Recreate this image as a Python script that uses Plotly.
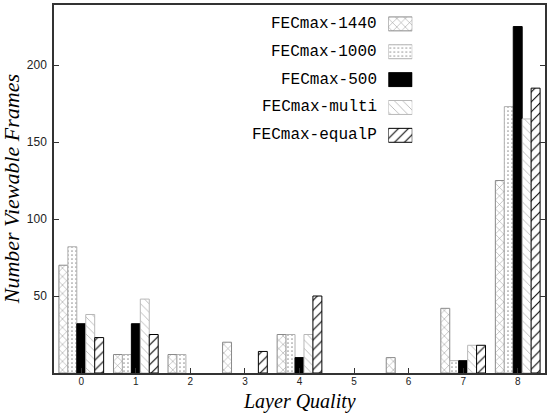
import plotly.graph_objects as go

# ---- data ----
layers = [0, 1, 2, 3, 4, 5, 6, 7, 8]
tick_labels = ["0", "1", "2", "3", "4", "5", "6", "7", "8"]
series_names = ["FECmax-1440", "FECmax-1000", "FECmax-500", "FECmax-multi", "FECmax-equalP"]
fec_1440 = [70, 12, 12, 20, 25, 0, 10, 42, 125]
fec_1000 = [82, 12, 12, 0, 25, 0, 0, 8, 173]
fec_500 = [32, 32, 0, 0, 10, 0, 0, 8, 225]
fec_multi = [38, 48, 0, 0, 25, 0, 0, 18, 165]
fec_equalp = [23, 25, 0, 14, 50, 0, 0, 18, 185]
y_tick_vals = [50, 100, 150, 200]
y_tick_text = ["50", "100", "150", "200"]

series_values = [fec_1440, fec_1000, fec_500, fec_multi, fec_equalp]

# ---- styles ----
styles = [
    dict(shape="x", fg="#8a8a8a", line="#8a8a8a", size=6, fill="white"),
    dict(shape=".", fg="#9a9a9a", line="#b0b0b0", size=4, fill="white"),
    dict(shape="", fg="black", line="black", size=8, fill="black"),
    dict(shape="\\", fg="#b8b8b8", line="#b8b8b8", size=6, fill="white"),
    dict(shape="/", fg="black", line="black", size=7, fill="white"),
]


def bar_marker(st, line_width=1):
    return dict(
        color=st["fill"],
        line=dict(color=st["line"], width=line_width),
        pattern=dict(shape=st["shape"], fgcolor=st["fg"], bgcolor=st["fill"],
                     size=st["size"], solidity=0.15, fillmode="replace"),
    )


fig = go.Figure()
for name, vals, st in zip(series_names, series_values, styles):
    widths = [1 if v > 0 else 0 for v in vals]
    fig.add_trace(go.Bar(
        x=layers, y=vals, name=name, showlegend=False,
        marker=bar_marker(st, widths), xaxis="x", yaxis="y",
    ))

# custom legend (swatch on the right of the text)
annotations = []
for i, (name, st) in enumerate(zip(series_names, styles)):
    fig.add_trace(go.Bar(
        y=[i], x=[1], base=0, orientation="h", width=0.5, offset=-0.25,
        showlegend=False, hoverinfo="skip", marker=bar_marker(st),
        xaxis="x2", yaxis="y2",
    ))
    annotations.append(dict(
        text=name, x=0.662, xref="paper", y=i, yref="y2",
        xanchor="right", yanchor="middle", showarrow=False,
        font=dict(family="Liberation Mono, Courier New, monospace", size=16, color="black"),
    ))

annotations.append(dict(
    text="Layer Quality", x=0.5, xref="paper", y=-0.078, yref="paper",
    xanchor="center", yanchor="middle", showarrow=False,
    font=dict(family="Liberation Serif, Times New Roman, serif", size=20, color="black", style="italic"),
))
annotations.append(dict(
    text="Number Viewable Frames", x=-0.087, xref="paper", y=0.5, yref="paper",
    xanchor="center", yanchor="middle", showarrow=False, textangle=-90,
    font=dict(family="Liberation Serif, Times New Roman, serif", size=22, color="black", style="italic"),
))

axis_common = dict(showgrid=False, zeroline=False, showline=True, linecolor="#333333",
                   linewidth=1.5, ticks="inside", ticklen=5, tickcolor="#333333", tickwidth=1)

fig.update_layout(
    width=550, height=420,
    margin=dict(l=54, r=4, t=3, b=47),
    paper_bgcolor="white", plot_bgcolor="white",
    barmode="group", bargap=0.18, bargroupgap=0,
    showlegend=False,
    xaxis=dict(range=[-0.5, 8.5], tickmode="array", tickvals=layers, ticktext=tick_labels,
               mirror=True, ticklabelstandoff=-2,
               tickfont=dict(family="Liberation Sans, Arial, sans-serif", size=10, color="#222"),
               **axis_common),
    yaxis=dict(range=[0, 239], tickmode="array", tickvals=y_tick_vals, ticktext=y_tick_text,
               mirror="ticks", ticklabelstandoff=3,
               tickfont=dict(family="Liberation Sans, Arial, sans-serif", size=12, color="#222"),
               **axis_common),
    xaxis2=dict(domain=[0.6809, 0.7297], range=[0, 1], anchor="y2", visible=False, fixedrange=True),
    yaxis2=dict(domain=[0.608, 0.9865], range=[4.5, -0.5], anchor="x2", visible=False, fixedrange=True),
    annotations=annotations,
)

fig.write_html("out.html", config={"displayModeBar": False},
               post_script="document.body.style.margin='0px';")
